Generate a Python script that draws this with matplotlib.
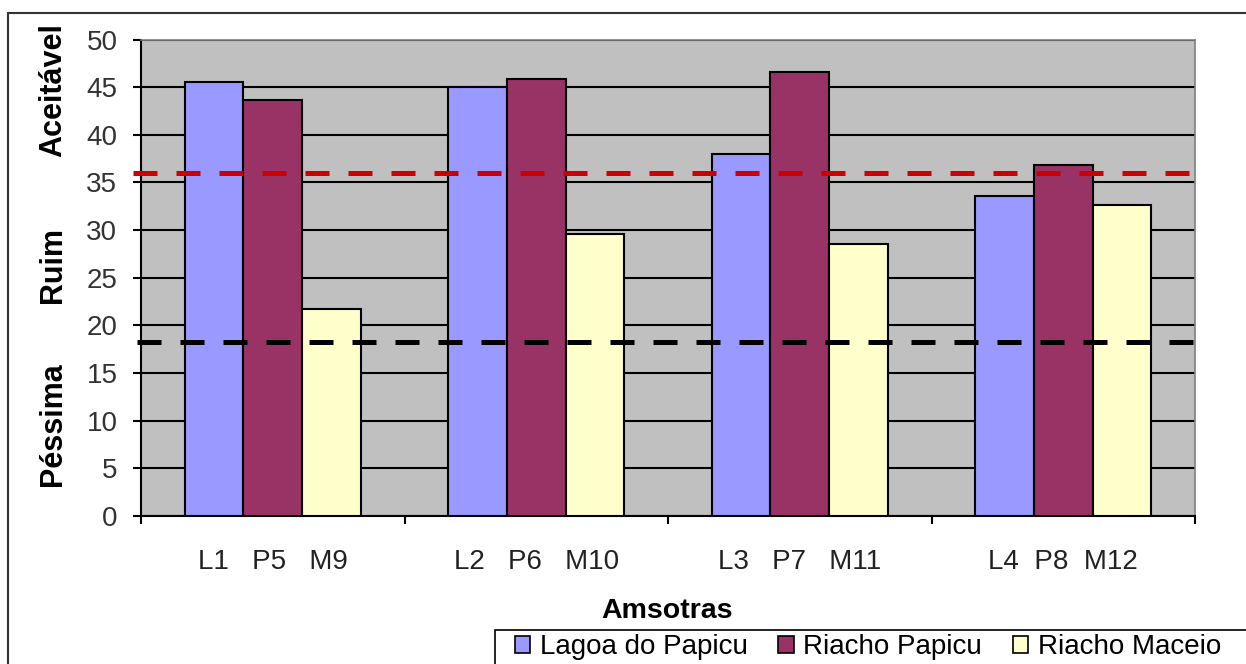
import numpy as np
import matplotlib.pyplot as plt
from matplotlib.patches import Rectangle

plt.rcParams['font.family'] = ['Liberation Sans', 'DejaVu Sans']

# amostras por ponto de coleta
grupos = ["L1   P5   M9", "L2   P6   M10", "L3   P7   M11", "L4  P8  M12"]
series = ["Lagoa do Papicu", "Riacho Papicu", "Riacho Maceio"]
lagoa = [45.5, 45.0, 38.0, 33.6]
riacho_papicu = [43.6, 45.9, 46.6, 36.8]
riacho_maceio = [21.7, 29.6, 28.5, 32.6]
cores = ["#9999FF", "#993366", "#FFFFCC"]

# limites das faixas de qualidade
limite_aceitavel = 36
limite_pessima = 18.3

fig = plt.figure(figsize=(12.46, 6.64), dpi=100)
ax = fig.add_axes([141/1246, 1 - 516/664, (1195 - 141)/1246, (516 - 39.5)/664])

x = np.arange(len(grupos))
w = 1 / 4.5
valores = [lagoa, riacho_papicu, riacho_maceio]
for i, (vals, cor, nome) in enumerate(zip(valores, cores, series)):
    ax.bar(x + (i - 1) * w, vals, width=w, color=cor, edgecolor="black",
           linewidth=1.5, label=nome, zorder=3)

ax.axhline(limite_aceitavel, xmin=-0.008, xmax=1.002, color="#CC0000", lw=3.6,
           linestyle=(0, (4.8, 3.8)), zorder=5, clip_on=False)
ax.axhline(limite_pessima, xmin=-0.004, xmax=1.0, color="black", lw=3.6,
           linestyle=(0, (4.8, 3.8)), zorder=5, clip_on=False)

ax.set_facecolor("#C0C0C0")
ax.set_xlim(-0.5, len(grupos) - 0.5)
ax.set_ylim(0, 50)
ax.set_yticks(np.arange(0, 51, 5))
ax.yaxis.grid(True, color="black", linewidth=1.5, zorder=0)
ax.set_axisbelow(True)

ax.set_xticks(x)
ax.set_xticklabels(grupos, fontsize=20, color="#222222")
ax.set_xticks(np.arange(-0.5, len(grupos), 1), minor=True)
ax.tick_params(axis="x", which="major", length=0, pad=24)
ax.tick_params(axis="x", which="minor", length=6, width=1.5, direction="out")
ax.tick_params(axis="y", length=6, width=1.5, pad=11, labelsize=20,
               labelcolor="#333333")

for lado in ["top", "right"]:
    ax.spines[lado].set_color("#808080")
    ax.spines[lado].set_linewidth(1.2)
for lado in ["left", "bottom"]:
    ax.spines[lado].set_color("black")
    ax.spines[lado].set_linewidth(1.5)

fig.text(667/1246, 1 - 611/664, "Amsotras", fontsize=20.5, fontweight="bold",
         ha="center", va="center")
for rotulo, yc in [("Aceitável", 90), ("Ruim", 265), ("Péssima", 424)]:
    fig.text(53/1246, 1 - yc/664, rotulo, fontsize=22, fontweight="bold",
             rotation=90, ha="center", va="center")

# moldura da área do gráfico
fig.patches.append(Rectangle((8/1246, -0.2), 1.2, 0.2 + 1 - 13/664,
                             transform=fig.transFigure, fill=False,
                             edgecolor="#333333", linewidth=1.5))

# legenda sem moldura própria; a caixa é desenhada à parte
leg = fig.legend(loc="upper left", bbox_to_anchor=(515/1246, 1 - 634/664),
                 ncol=3, fontsize=20, frameon=False,
                 handlelength=0.55, handleheight=0.55,
                 handletextpad=0.35, columnspacing=1.1, borderpad=0,
                 borderaxespad=0)
for h in leg.legend_handles:
    h.set_linewidth(1.2)
fig.patches.append(Rectangle((495/1246, -0.2), 1.0, 0.2 + 1 - 630/664,
                             transform=fig.transFigure, fill=False,
                             edgecolor="black", linewidth=1.2))

fig.savefig("out.png", dpi=100, facecolor="white")
